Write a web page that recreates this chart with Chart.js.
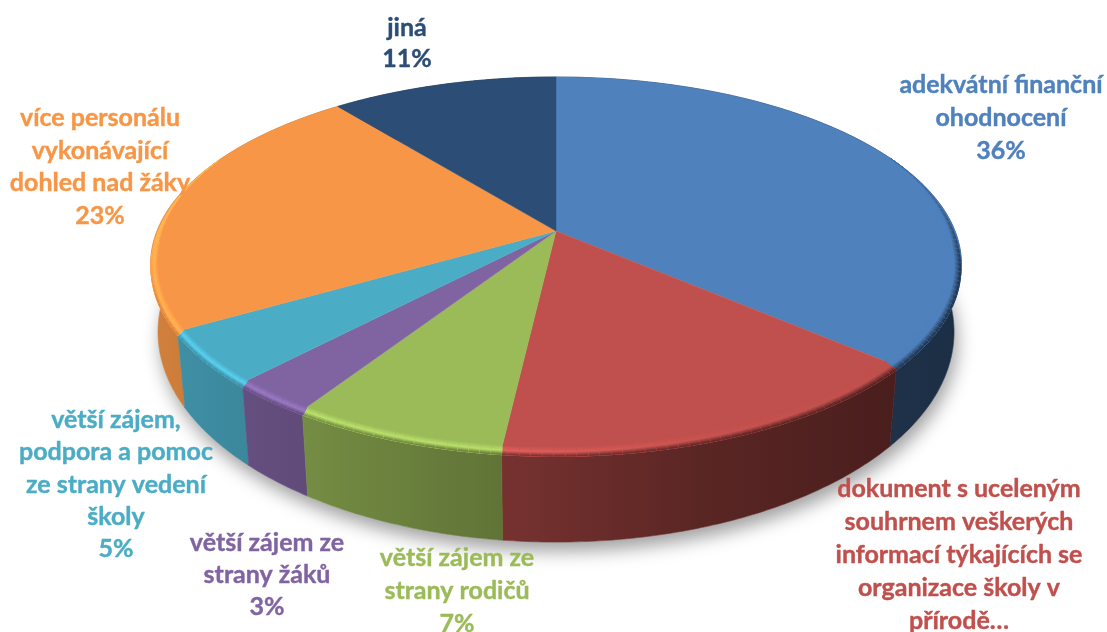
<!DOCTYPE html>
<html lang="cs">
<head>
<meta charset="utf-8">
<style>html,body{margin:0;padding:0;background:#fff;overflow:hidden}canvas{display:block}</style>
<script src="https://cdn.jsdelivr.net/npm/chart.js@4"></script>
</head>
<body>
<canvas id="c" width="1107" height="632"></canvas>
<script>
const categories = [
  "adekvátní finanční ohodnocení",
  "dokument s uceleným souhrnem veškerých informací týkajících se organizace školy v přírodě…",
  "větší zájem ze strany rodičů",
  "větší zájem ze strany žáků",
  "větší zájem, podpora a pomoc ze strany vedení školy",
  "více personálu vykonávající dohled nad žáky",
  "jiná"
];
const values = [36.4, 15.4, 7.3, 2.9, 4.6, 22.7, 10.7];
const colors = ["#4f81bd", "#c0504d", "#9bbb59", "#8064a2", "#4bacc6", "#f79646", "#2c4d75"];
const labelLines = [
  ["adekvátní finanční", "ohodnocení"],
  ["dokument s uceleným", "souhrnem veškerých", "informací týkajících se", "organizace školy v", "přírodě…"],
  ["větší zájem ze", "strany rodičů"],
  ["větší zájem ze", "strany žáků"],
  ["větší zájem,", "podpora a pomoc", "ze strany vedení", "školy"],
  ["více personálu", "vykonávající", "dohled nad žáky"],
  ["jiná"]
];
const showPercent = [true, false, true, true, true, true, true];

// Presentation only: perspective of the disc and label anchors (centre x, first line y, line step).
const view = {cx: 556, cy: 231, R: 399, B: 181.3, k: 0.177, bottomB: 196, drop: 65.6, m: 0.018};
const labelPlace = [[1001, 85, 33], [959, 489, 33], [457, 558, 33], [267, 543, 32], [116, 420, 32.3], [100, 118, 32.5], [407, 28, 31]];
const shadeX = [150, 500, 700, 900, 960];
const sideShade = [0.85, 0.62, 0.47, 0.38, 0.36];
const glow = [1.22, 1.2, 1.05, 1.0, 1.0];

function project(u, v, h) {
  const w = 1 - view.k * v + view.m * h;
  const b = view.B + (view.bottomB - view.B) * h;
  return [view.cx + view.R * u / w, view.cy + (b * v + view.drop * h) / w];
}
const rgb = hex => [1, 3, 5].map(i => parseInt(hex.substr(i, 2), 16));
const css = c => "rgb(" + c.map(x => Math.max(0, Math.min(255, Math.round(x)))).join(",") + ")";
const scale = (c, f) => c.map(x => x * f);
const mix = (a, b, t) => a.map((x, i) => x + (b[i] - x) * t);
const clamp01 = x => Math.max(0, Math.min(1, x));

function thetas(el) {
  const a0 = el.startAngle + Math.PI / 2, a1 = el.endAngle + Math.PI / 2;
  const n = Math.max(4, Math.ceil((a1 - a0) / 0.012));
  const out = [];
  for (let i = 0; i <= n; i++) out.push(a0 + (a1 - a0) * i / n);
  return out;
}
function alongX(arr, x) {
  if (x <= shadeX[0]) return arr[0];
  for (let i = 1; i < shadeX.length; i++) {
    if (x <= shadeX[i]) return arr[i - 1] + (arr[i] - arr[i - 1]) * (x - shadeX[i - 1]) / (shadeX[i] - shadeX[i - 1]);
  }
  return arr[arr.length - 1];
}
function horizGrad(ctx, fn) {
  const g = ctx.createLinearGradient(shadeX[0], 0, shadeX[shadeX.length - 1], 0);
  const span = shadeX[shadeX.length - 1] - shadeX[0];
  shadeX.forEach((x, i) => g.addColorStop((x - shadeX[0]) / span, css(fn(i))));
  return g;
}
function poly(ctx, pts) {
  ctx.beginPath();
  pts.forEach((p, i) => i ? ctx.lineTo(p[0], p[1]) : ctx.moveTo(p[0], p[1]));
  ctx.closePath();
}
// taper of the bevelled rim: none at the back of the disc, full at the front
const taper = v => clamp01((v + 0.42) / 0.5);
function rim(th, t) {
  const u = Math.sin(th), v = -Math.cos(th), f = taper(v);
  const inner = (0.017 + 0.02 * Math.max(0, u)) * f;
  const r = 1 - inner * (1 - t);
  return project(u * r, v * r, 0.055 * f * t);
}
function rimColour(base, th, t) {
  const u = Math.sin(th), v = -Math.cos(th);
  const x = project(u, v, 0)[0];
  const hi = scale(base, alongX(glow, x)), dk = scale(base, alongX(sideShade, x));
  // the dark end of the bevel only shows where the rim turns to the viewer
  const left = u < 0 ? clamp01(v / 0.35) : 0.35 + 0.65 * clamp01((v + 0.2) / 0.4);
  const end = mix(hi, dk, left);
  return t < 0.55 ? mix(base, hi, t / 0.55) : mix(hi, end, (t - 0.55) / 0.45);
}

const pie3d = {
  id: "pie3d",
  beforeDatasetDraw(chart) {
    const ctx = chart.ctx, els = chart.getDatasetMeta(0).data;
    ctx.save();
    // soft shadow beneath the disc
    const ring = [];
    for (let i = 0; i < 240; i++) { const a = i / 240 * 2 * Math.PI; ring.push(project(Math.sin(a), -Math.cos(a), 1)); }
    ctx.save();
    ctx.shadowColor = "rgba(0,0,0,0.38)"; ctx.shadowBlur = 18; ctx.shadowOffsetX = 3; ctx.shadowOffsetY = 9;
    ctx.fillStyle = "#fff"; poly(ctx, ring); ctx.fill();
    ctx.restore();
    // side walls, back to front
    const order = els.map((_, i) => i).sort((a, b) => {
      const mid = e => -Math.cos((e.startAngle + e.endAngle) / 2 + Math.PI / 2);
      return mid(els[a]) - mid(els[b]);
    });
    order.forEach(i => {
      const th = thetas(els[i]), base = rgb(colors[i]);
      const pts = th.map(t => project(Math.sin(t), -Math.cos(t), 0))
        .concat(th.slice().reverse().map(t => project(Math.sin(t), -Math.cos(t), 1)));
      const g = horizGrad(ctx, k => scale(base, sideShade[k]));
      ctx.fillStyle = g; ctx.strokeStyle = g; ctx.lineWidth = 0.6;
      poly(ctx, pts); ctx.fill(); ctx.stroke();
    });
    // top faces
    els.forEach((el, i) => {
      const pts = [project(0, 0, 0)].concat(thetas(el).map(t => project(Math.sin(t), -Math.cos(t), 0)));
      ctx.fillStyle = colors[i]; ctx.strokeStyle = colors[i]; ctx.lineWidth = 0.4;
      poly(ctx, pts); ctx.fill(); ctx.stroke();
    });
    // bevelled rim, built from short segments so its colour can follow the angle
    const steps = 10;
    els.forEach((el, i) => {
      const th = thetas(el), base = rgb(colors[i]);
      for (let s = 0; s < th.length - 1; s += 2) {
        const a = th[s], b = th[Math.min(s + 2, th.length - 1)], mid = (a + b) / 2;
        if (taper(-Math.cos(mid)) <= 0) continue;
        for (let j = 0; j < steps; j++) {
          const t = j / steps, c = css(rimColour(base, mid, (j + 0.5) / steps));
          ctx.fillStyle = c; ctx.strokeStyle = c; ctx.lineWidth = 0.3;
          poly(ctx, [rim(a, t), rim(b, t), rim(b, 1), rim(a, 1)]);
          ctx.fill(); ctx.stroke();
        }
      }
    });
    ctx.restore();
    return false;
  },
  afterDraw(chart) {
    const ctx = chart.ctx, total = values.reduce((a, b) => a + b, 0);
    ctx.save();
    ctx.font = "bold 25px Lato, 'Open Sans', sans-serif";
    ctx.textAlign = "center"; ctx.textBaseline = "middle";
    ctx.lineWidth = 0.4; ctx.lineJoin = "round";
    labelLines.forEach((lines, i) => {
      const all = showPercent[i] ? lines.concat(Math.round(values[i] / total * 100) + "%") : lines;
      const [x, y, step] = labelPlace[i];
      ctx.fillStyle = colors[i]; ctx.strokeStyle = colors[i];
      all.forEach((s, n) => { ctx.fillText(s, x, y + n * step); ctx.strokeText(s, x, y + n * step); });
    });
    ctx.restore();
  }
};

new Chart(document.getElementById("c"), {
  type: "pie",
  data: {labels: categories, datasets: [{data: values, backgroundColor: colors, borderWidth: 0}]},
  options: {
    responsive: false, animation: false,
    plugins: {legend: {display: false}, tooltip: {enabled: false}}
  },
  plugins: [pie3d]
});
</script>
</body>
</html>
